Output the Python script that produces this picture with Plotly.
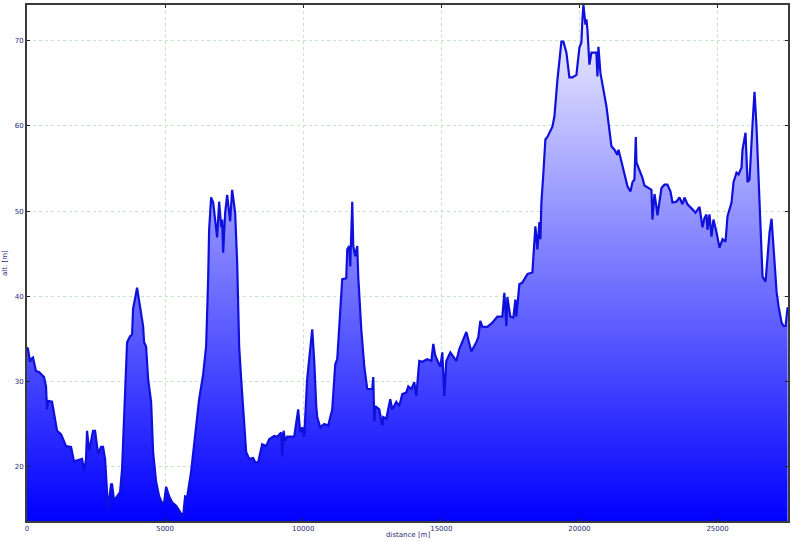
import plotly.graph_objects as go

# distance along the track [m] and altitude [m]
distance = [
    0, 36, 109, 145, 217, 326, 435, 616, 688, 725, 761, 906, 1087, 1232, 1413, 1594,
    1703, 1993, 2065, 2138, 2174, 2246, 2391, 2464, 2536, 2572, 2681, 2753, 2826, 2862,
    2935, 3043, 3080, 3152, 3261, 3369, 3442, 3551, 3623, 3732, 3804, 3840, 3985, 4022,
    4130, 4166, 4203, 4239, 4311, 4384, 4493, 4565, 4674, 4783, 4891, 4964, 5036, 5145,
    5253, 5398, 5579, 5652, 5724, 5797, 5942, 6123, 6232, 6376, 6485, 6558, 6594, 6666,
    6739, 6884, 6956, 7029, 7065, 7101, 7174, 7246, 7355, 7427, 7536, 7608, 7681, 7753,
    7826, 7934, 8043, 8188, 8260, 8369, 8514, 8659, 8768, 8876, 8949, 9058, 9202, 9239,
    9290, 9347, 9420, 9673, 9818, 9891, 9963, 10036, 10144, 10326, 10398, 10471, 10507,
    10616, 10760, 10905, 11050, 11159, 11231, 11412, 11557, 11594, 11666, 11702, 11775,
    11811, 11883, 11956, 11992, 12101, 12210, 12318, 12499, 12536, 12572, 12608, 12753,
    12862, 12898, 13007, 13151, 13224, 13369, 13478, 13586, 13731, 13804, 13912, 14021,
    14093, 14202, 14311, 14492, 14637, 14709, 14782, 14891, 14963, 15035, 15108, 15180,
    15325, 15543, 15651, 15905, 16086, 16267, 16339, 16412, 16484, 16666, 16847, 17028,
    17209, 17282, 17354, 17390, 17499, 17608, 17680, 17716, 17825, 17934, 18115, 18296,
    18405, 18477, 18550, 18586, 18622, 18695, 18767, 18840, 19021, 19093, 19202, 19347,
    19419, 19528, 19636, 19745, 19890, 19999, 20071, 20107, 20144, 20216, 20252, 20289,
    20361, 20433, 20542, 20614, 20651, 20687, 20760, 20977, 21158, 21267, 21376, 21412,
    21484, 21629, 21738, 21847, 21919, 21991, 22040, 22064, 22172, 22281, 22353, 22463,
    22607, 22643, 22716, 22788, 22825, 22970, 23078, 23187, 23296, 23368, 23513, 23622,
    23730, 23803, 23911, 24092, 24201, 24346, 24454, 24527, 24599, 24635, 24708, 24780,
    24852, 24962, 25071, 25180, 25288, 25360, 25505, 25578, 25686, 25759, 25867, 25904,
    26012, 26085, 26157, 26266, 26338, 26410, 26483, 26556, 26592, 26628, 26737, 26809,
    26882, 26955, 26991, 27064, 27137, 27209, 27318, 27390, 27463, 27535,
]
altitude = [
    34.0, 33.8, 32.3, 32.6, 32.8, 31.2, 31.1, 30.5, 29.4, 26.7, 27.7, 27.6, 24.2, 23.8, 22.4, 22.3,
    20.6, 20.9, 19.5, 20.9, 24.2, 21.8, 24.2, 24.2, 22.4, 21.5, 22.3, 22.3, 20.9, 18.5,
    15.0, 17.9, 17.9, 16.0, 16.5, 17.0, 19.7, 28.3, 34.6, 35.3, 35.5, 38.5, 41.0, 40.2,
    38.1, 36.9, 36.5, 34.6, 34.1, 30.3, 27.6, 21.7, 18.2, 16.5, 15.7, 15.8, 17.6, 16.5,
    15.8, 15.4, 14.4, 14.1, 16.5, 16.4, 19.4, 25.2, 27.9, 30.8, 34.1, 42.0, 47.8, 51.6,
    51.0, 46.9, 51.1, 48.1, 49.0, 45.1, 49.8, 51.9, 48.8, 52.5, 49.8, 44.0, 34.1, 30.3,
    27.1, 21.7, 20.9, 21.0, 20.5, 20.5, 22.6, 22.4, 23.2, 23.5, 23.6, 23.5, 24.0, 21.2,
    24.2, 23.0, 23.5, 23.5, 26.7, 24.0, 24.6, 23.5, 30.3, 36.1, 32.4, 27.1, 25.8,
    24.6, 25.0, 24.8, 26.7, 32.0, 32.6, 42.0, 42.1, 45.5, 45.9, 43.5, 51.1,
    45.9, 44.7, 45.9, 42.3, 36.1, 31.8, 29.1, 29.1, 30.5, 25.3, 27.1, 26.7,
    24.8, 25.8, 25.6, 27.9, 26.7, 27.6, 27.1, 28.5, 28.7, 29.4, 29.1, 29.9,
    28.3, 32.4, 32.3, 32.6, 32.4, 34.4, 33.0, 32.3, 31.7, 33.4, 28.3, 32.4,
    33.4, 32.4, 33.8, 35.8, 33.5, 34.6, 35.2, 37.1, 36.4, 36.4, 36.9, 37.6,
    37.6, 40.4, 36.5, 39.9, 37.6, 37.5, 39.6, 37.6, 41.4, 41.6, 42.6, 42.8,
    48.2, 45.5, 48.7, 46.7, 51.0, 54.5, 58.4, 58.7, 59.9, 61.1, 65.4, 69.9,
    69.9, 68.6, 65.7, 65.7, 66.0, 69.2, 69.8, 72.5, 74.2, 71.9, 72.5, 71.3,
    67.2, 68.6, 68.6, 68.6, 65.8, 69.3, 66.2, 62.3, 57.6, 57.2, 56.6, 57.2,
    56.3, 54.5, 52.9, 52.3, 53.4, 53.7, 58.7, 55.7, 54.9, 53.9, 53.0, 52.8,
    52.5, 49.0, 52.0, 50.5, 49.5, 52.7, 53.1, 53.1, 52.3, 51.0, 51.1, 51.6,
    50.8, 51.6, 50.8, 50.2, 49.8, 50.5, 48.1, 49.2, 49.6, 47.8, 49.6, 47.0,
    49.0, 47.5, 45.7, 46.7, 46.4, 49.4, 51.0, 53.4, 54.5, 54.3, 55.1, 57.2,
    59.2, 53.4, 53.7, 60.2, 64.0, 59.9, 54.1, 48.7, 44.1, 42.3, 41.7, 45.1,
    47.5, 49.1, 47.6, 44.3, 40.5, 38.8, 36.9, 36.5, 36.5, 38.7,
]

x_ticks = [0, 5000, 10000, 15000, 20000, 25000]
y_ticks = [20, 30, 40, 50, 60, 70]

Y_MIN, Y_MAX = 13.6, 74.2
X_MAX = 27550

LABEL_COLOR = '#2b2b7a'
GRID_COLOR = '#c6e4c6'
FONT = 'DejaVu Sans, sans-serif'

fig = go.Figure()
fig.add_trace(go.Scatter(
    x=distance,
    y=altitude,
    mode='lines',
    line=dict(color='#1010dc', width=2.2),
    fill='tozeroy',
    fillgradient=dict(
        type='vertical',
        start=Y_MIN,
        stop=Y_MAX,
        colorscale=[[0, '#0000ff'], [1, '#f6f6ff']],
    ),
    hoverinfo='x+y',
    showlegend=False,
))

axis_common = dict(
    automargin=False,
    showgrid=True,
    gridcolor=GRID_COLOR,
    griddash='dot',
    gridwidth=1,
    zeroline=False,
    showline=True,
    linecolor='#3a3a3a',
    linewidth=2,
    mirror='ticks',
    ticks='inside',
    ticklen=3,
    tickcolor='#222',
    tickfont=dict(family=FONT, size=7, color=LABEL_COLOR),
)

fig.update_xaxes(
    range=[0, X_MAX],
    tickvals=x_ticks,
    ticktext=[str(v) for v in x_ticks],
    **axis_common,
)
fig.update_yaxes(
    range=[Y_MIN, Y_MAX],
    tickvals=y_ticks,
    ticktext=[str(v) for v in y_ticks],
    **axis_common,
)

# axis titles placed as annotations so the margins stay tight
fig.add_annotation(text='distance [m]', xref='paper', yref='paper', x=0.5, y=-0.027,
                   xanchor='center', yanchor='middle', showarrow=False,
                   font=dict(family=FONT, size=7, color=LABEL_COLOR))
fig.add_annotation(text='alt. [m]', xref='paper', yref='paper', x=-0.029, y=0.5,
                   xanchor='center', yanchor='middle', textangle=-90, showarrow=False,
                   font=dict(family=FONT, size=7, color=LABEL_COLOR))

fig.update_layout(
    width=800,
    height=542,
    margin=dict(l=27, r=12, t=5, b=21),
    paper_bgcolor='white',
    plot_bgcolor='white',
    font=dict(family=FONT, size=7, color=LABEL_COLOR),
)

# drop the page's default body margin so the figure sits at the window origin
fig.write_html("out.html", config={'displayModeBar': False},
               post_script="document.body.style.margin='0';")
